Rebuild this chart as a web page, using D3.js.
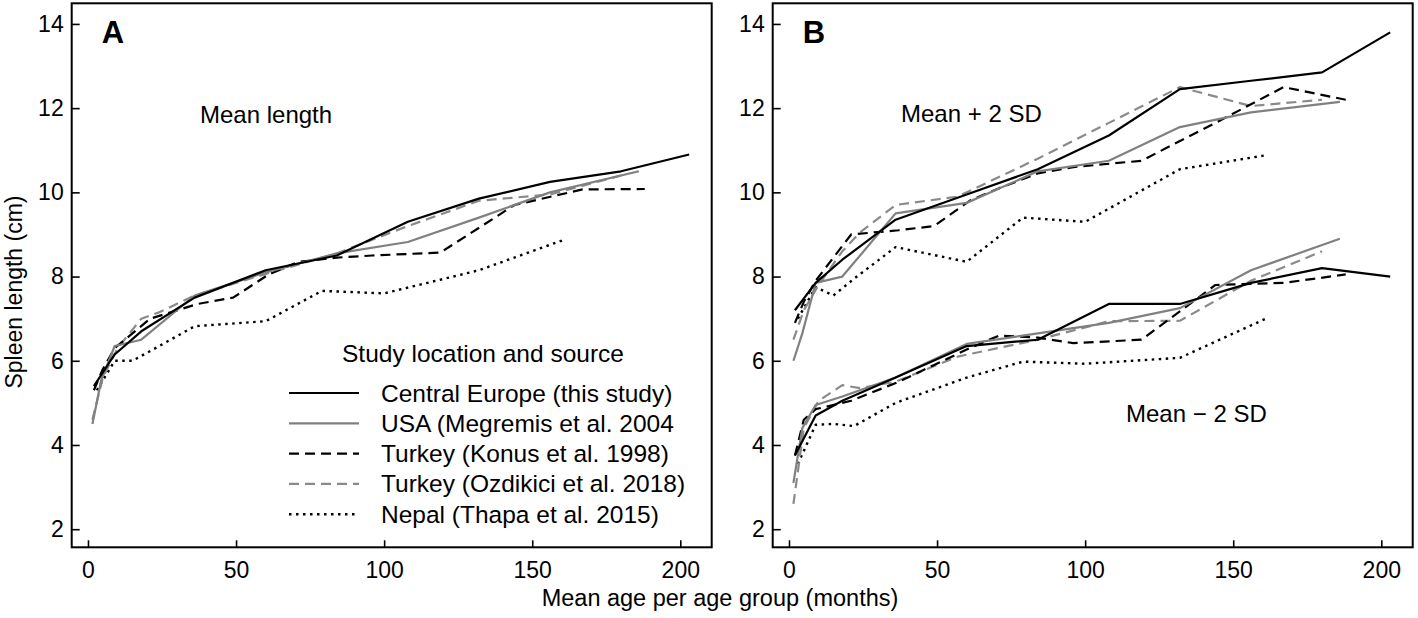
<!DOCTYPE html>
<html>
<head>
<meta charset="utf-8">
<script src="https://cdn.jsdelivr.net/npm/d3@7"></script>
<style>
  body { margin: 0; background: #fff; }
  svg text { font-family: "Liberation Sans", Arial, sans-serif; fill: #000; }
  .axis path.domain { display: none; }
  .axis line { stroke: #000; stroke-width: 1.6; }
  .axis text { font-size: 23px; }
</style>
</head>
<body>
<div id="chart"></div>
<script>
// ---- data ----
// Central Europe (this study)
var ageCE   = [2, 9, 18, 36, 60, 84, 108, 132, 156, 180, 203];
var meanCE  = [5.4, 6.15, 6.7, 7.5, 8.15, 8.5, 9.3, 9.85, 10.25, 10.5, 10.9];
var upperCE = [7.2, 7.85, 8.4, 9.35, 9.95, 10.55, 11.35, 12.45, 12.65, 12.85, 13.8];
var lowerCE = [3.75, 4.7, 5.05, 5.6, 6.35, 6.5, 7.35, 7.35, 7.85, 8.2, 8.0];

// USA (Megremis et al. 2004)
var ageUSA   = [1.5, 4.5, 9, 18, 36, 60, 84, 108, 132, 156, 186];
var meanUSA  = [4.5, 5.55, 6.35, 6.5, 7.55, 8.1, 8.55, 8.82, 9.4, 10.0, 10.5];
var upperUSA = [6.0, 6.65, 7.85, 8.0, 9.5, 9.75, 10.5, 10.75, 11.55, 11.9, 12.15];
var lowerUSA = [3.1, 4.4, 4.95, 5.15, 5.6, 6.4, 6.65, 6.9, 7.25, 8.15, 8.9];

// Turkey (Konus et al. 1998)
var ageKonus   = [2, 5, 9, 21, 37, 49, 61, 71, 84, 96, 119, 144, 167, 188];
var meanKonus  = [5.3, 5.8, 6.3, 7.0, 7.35, 7.5, 8.05, 8.35, 8.45, 8.5, 8.57, 9.7, 10.07, 10.08];
var upperKonus = [6.9, 7.4, 7.9, 9.0, 9.1, 9.2, 9.8, 10.1, 10.45, 10.6, 10.75, 11.65, 12.5, 12.2];
var lowerKonus = [3.75, 4.6, 4.85, 5.05, 5.5, 5.9, 6.3, 6.6, 6.55, 6.42, 6.5, 7.8, 7.85, 8.05];

// Turkey (Ozdikici et al. 2018)
var ageOzd   = [1.5, 5, 10, 18, 24, 36, 57, 84, 108, 132, 156, 180];
var meanOzd  = [4.6, 5.6, 6.3, 7.0, 7.15, 7.55, 8.0, 8.55, 9.2, 9.8, 9.95, 10.4];
var upperOzd = [6.5, 7.2, 7.8, 8.6, 9.05, 9.7, 9.9, 10.8, 11.65, 12.5, 12.05, 12.2];
var lowerOzd = [2.6, 4.4, 5.05, 5.42, 5.35, 5.5, 6.1, 6.5, 6.94, 6.95, 7.9, 8.6];

// Nepal (Thapa et al. 2015)
var ageNepal   = [3, 9, 15, 22, 36, 60, 79, 100, 132, 161];
var meanNepal  = [5.3, 6.0, 6.0, 6.27, 6.82, 6.94, 7.66, 7.6, 8.15, 8.88];
var upperNepal = [7.0, 7.75, 7.55, 7.95, 8.7, 8.35, 9.4, 9.3, 10.55, 10.88];
var lowerNepal = [3.55, 4.48, 4.5, 4.45, 5.0, 5.6, 5.98, 5.93, 6.07, 7.0];

var legendLabels = [
  "Central Europe (this study)",
  "USA (Megremis et al. 2004",
  "Turkey (Konus et al. 1998)",
  "Turkey (Ozdikici et al. 2018)",
  "Nepal (Thapa et al. 2015)"
];
var xTicks = [0, 50, 100, 150, 200];
var yTicks = [2, 4, 6, 8, 10, 12, 14];

// ---- styles per series ----
var styles = [
  {color: "#000", width: 2.2, dash: null},
  {color: "#808080", width: 2.2, dash: null},
  {color: "#000", width: 2.2, dash: "10,6"},
  {color: "#8a8a8a", width: 2.2, dash: "10,6"},
  {color: "#000", width: 2.4, dash: "2.5,4.5"}
];

function zip(ages, vals) {
  return ages.map(function (a, i) { return {age: a, v: vals[i]}; });
}

var meanSeries = [
  zip(ageCE, meanCE), zip(ageUSA, meanUSA), zip(ageKonus, meanKonus),
  zip(ageOzd, meanOzd), zip(ageNepal, meanNepal)
];
var upperSeries = [
  zip(ageCE, upperCE), zip(ageUSA, upperUSA), zip(ageKonus, upperKonus),
  zip(ageOzd, upperOzd), zip(ageNepal, upperNepal)
];
var lowerSeries = [
  zip(ageCE, lowerCE), zip(ageUSA, lowerUSA), zip(ageKonus, lowerKonus),
  zip(ageOzd, lowerOzd), zip(ageNepal, lowerNepal)
];

var width = 1418, height = 618;
var panelW = 640, panelH = 544, panelTop = 3.3;

var svg = d3.select("#chart").append("svg")
  .attr("width", width)
  .attr("height", height);

svg.append("rect").attr("width", width).attr("height", height).attr("fill", "#fff");

function drawPanel(left, letter, groups) {
  var x = d3.scaleLinear().domain([-5.5, 210.6]).range([left, left + panelW]);
  var y = d3.scaleLinear().domain([1.57, 14.49]).range([panelTop + panelH, panelTop]);

  var g = svg.append("g");

  var line = d3.line()
    .x(function (d) { return x(d.age); })
    .y(function (d) { return y(d.v); });

  // draw in reverse so the black solid line ends up on top
  groups.forEach(function (series) {
    for (var i = series.length - 1; i >= 0; i--) {
      g.append("path")
        .attr("d", line(series[i]))
        .attr("fill", "none")
        .attr("stroke", styles[i].color)
        .attr("stroke-width", styles[i].width)
        .attr("stroke-dasharray", styles[i].dash)
        .attr("stroke-linejoin", "round");
    }
  });

  g.append("g")
    .attr("class", "axis")
    .attr("transform", "translate(" + left + ",0)")
    .call(d3.axisLeft(y).tickValues(yTicks).tickSize(-8).tickPadding(8));

  g.append("g")
    .attr("class", "axis")
    .attr("transform", "translate(0," + (panelTop + panelH) + ")")
    .call(d3.axisBottom(x).tickValues(xTicks).tickSize(-7).tickPadding(14));

  g.append("rect")
    .attr("x", left).attr("y", panelTop)
    .attr("width", panelW).attr("height", panelH)
    .attr("fill", "none").attr("stroke", "#000").attr("stroke-width", 2);

  g.append("text")
    .attr("x", left + 30).attr("y", 43)
    .style("font-size", "31px").style("font-weight", "bold")
    .text(letter);

  return g;
}

var gA = drawPanel(71.7, "A", [meanSeries]);
var gB = drawPanel(772.7, "B", [upperSeries, lowerSeries]);

gA.append("text").attr("x", 200).attr("y", 123)
  .style("font-size", "24px").text("Mean length");

gB.append("text").attr("x", 901).attr("y", 122)
  .style("font-size", "24px").text("Mean + 2 SD");
gB.append("text").attr("x", 1126).attr("y", 422)
  .style("font-size", "24px").text("Mean \u2212 2 SD");

// legend
var legend = gA.append("g");
legend.append("text").attr("x", 342).attr("y", 362)
  .style("font-size", "24.5px").text("Study location and source");

legendLabels.forEach(function (lab, i) {
  var ly = 393 + i * 30.3;
  legend.append("line")
    .attr("x1", 289).attr("x2", 359)
    .attr("y1", ly).attr("y2", ly)
    .attr("stroke", styles[i].color)
    .attr("stroke-width", styles[i].width)
    .attr("stroke-dasharray", styles[i].dash);
  legend.append("text")
    .attr("x", 381).attr("y", ly + 8.5)
    .style("font-size", "24.5px")
    .text(lab);
});

// axis titles
svg.append("text")
  .attr("x", 720).attr("y", 606)
  .attr("text-anchor", "middle")
  .style("font-size", "23.5px")
  .text("Mean age per age group (months)");

svg.append("text")
  .attr("transform", "translate(22,292) rotate(-90)")
  .attr("text-anchor", "middle")
  .style("font-size", "23px")
  .text("Spleen length (cm)");
</script>
</body>
</html>
